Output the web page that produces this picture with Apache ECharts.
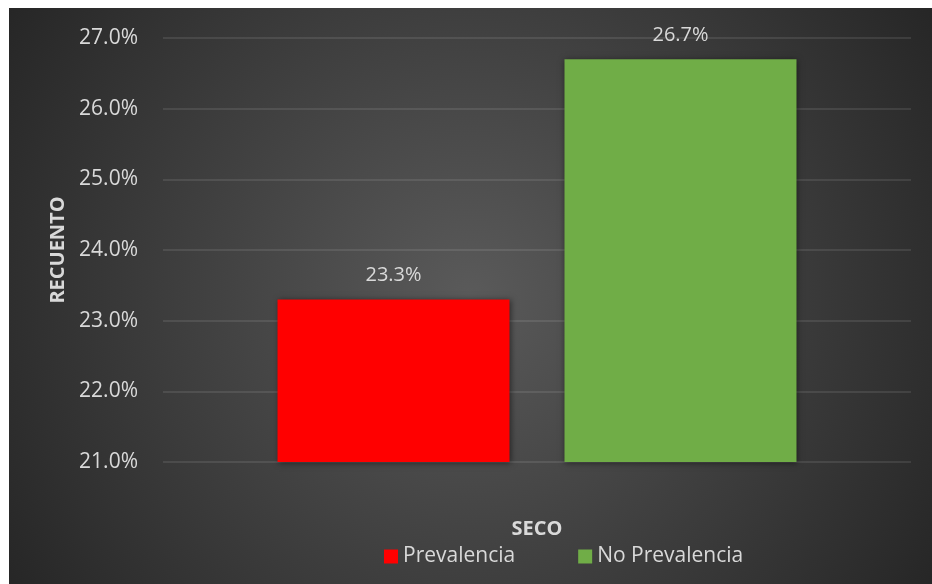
<!DOCTYPE html>
<html>
<head>
<meta charset="utf-8">
<script src="https://cdn.jsdelivr.net/npm/echarts@6/dist/echarts.min.js"></script>
<style>
    html, body { margin: 0; padding: 0; background: #fff; }
    #chart { position: absolute; left: 9px; top: 8px; width: 923px; height: 576px; }
</style>
</head>
<body>
<div id="chart"></div>
<script>
const categories = ['SECO']
const seriesNames = ['Prevalencia', 'No Prevalencia']
const seriesValues = [23.3, 26.7]
const seriesColors = ['#ff0000', '#70ad47']
const yMin = 21
const yMax = 27
const yStep = 1

const font = '"Open Sans", "Noto Sans", sans-serif'
const chart = echarts.init(document.getElementById('chart'))

const series = seriesNames.map((name, i) => ({
    name,
    type: 'bar',
    data: [seriesValues[i]],
    barWidth: 232,
    barGap: '23.7%',
    itemStyle: {
        color: seriesColors[i],
        shadowBlur: 6,
        shadowColor: 'rgba(0,0,0,0.5)',
        shadowOffsetX: 1,
        shadowOffsetY: 1
    },
    label: {
        show: true,
        position: 'top',
        distance: 14,
        color: '#d9d9d9',
        fontFamily: font,
        fontSize: 20,
        formatter: p => p.value.toFixed(1) + '%'
    }
}))

chart.setOption({
    backgroundColor: {
        type: 'radial', x: 0.5, y: 0.5, r: 0.95,
        colorStops: [
            { offset: 0, color: '#5a5a5a' },
            { offset: 1, color: '#262626' }
        ]
    },
    animation: false,
    legend: {
        left: 375,
        top: 538,
        padding: 0,
        itemWidth: 14,
        itemHeight: 14,
        itemGap: 63,
        icon: 'rect',
        textStyle: { color: '#d9d9d9', fontFamily: font, fontSize: 21 },
        data: seriesNames
    },
    grid: { left: 154, right: 21, top: 30, bottom: 122 },
    xAxis: {
        type: 'category',
        data: categories,
        axisLine: { show: false },
        axisTick: { show: false },
        axisLabel: {
            margin: 57,
            color: '#d9d9d9',
            fontFamily: font,
            fontSize: 20,
            fontWeight: 'bold'
        }
    },
    yAxis: {
        type: 'value',
        min: yMin,
        max: yMax,
        interval: yStep,
        name: 'RECUENTO',
        nameLocation: 'middle',
        nameGap: 92,
        nameTextStyle: { color: '#d9d9d9', fontFamily: font, fontSize: 20, fontWeight: 'bold' },
        axisLabel: {
            margin: 25,
            color: '#d9d9d9',
            fontFamily: font,
            fontSize: 21,
            formatter: v => v.toFixed(1) + '%'
        },
        splitLine: { lineStyle: { color: 'rgba(255,255,255,0.13)', width: 1.5 } }
    },
    series
})
</script>
</body>
</html>
